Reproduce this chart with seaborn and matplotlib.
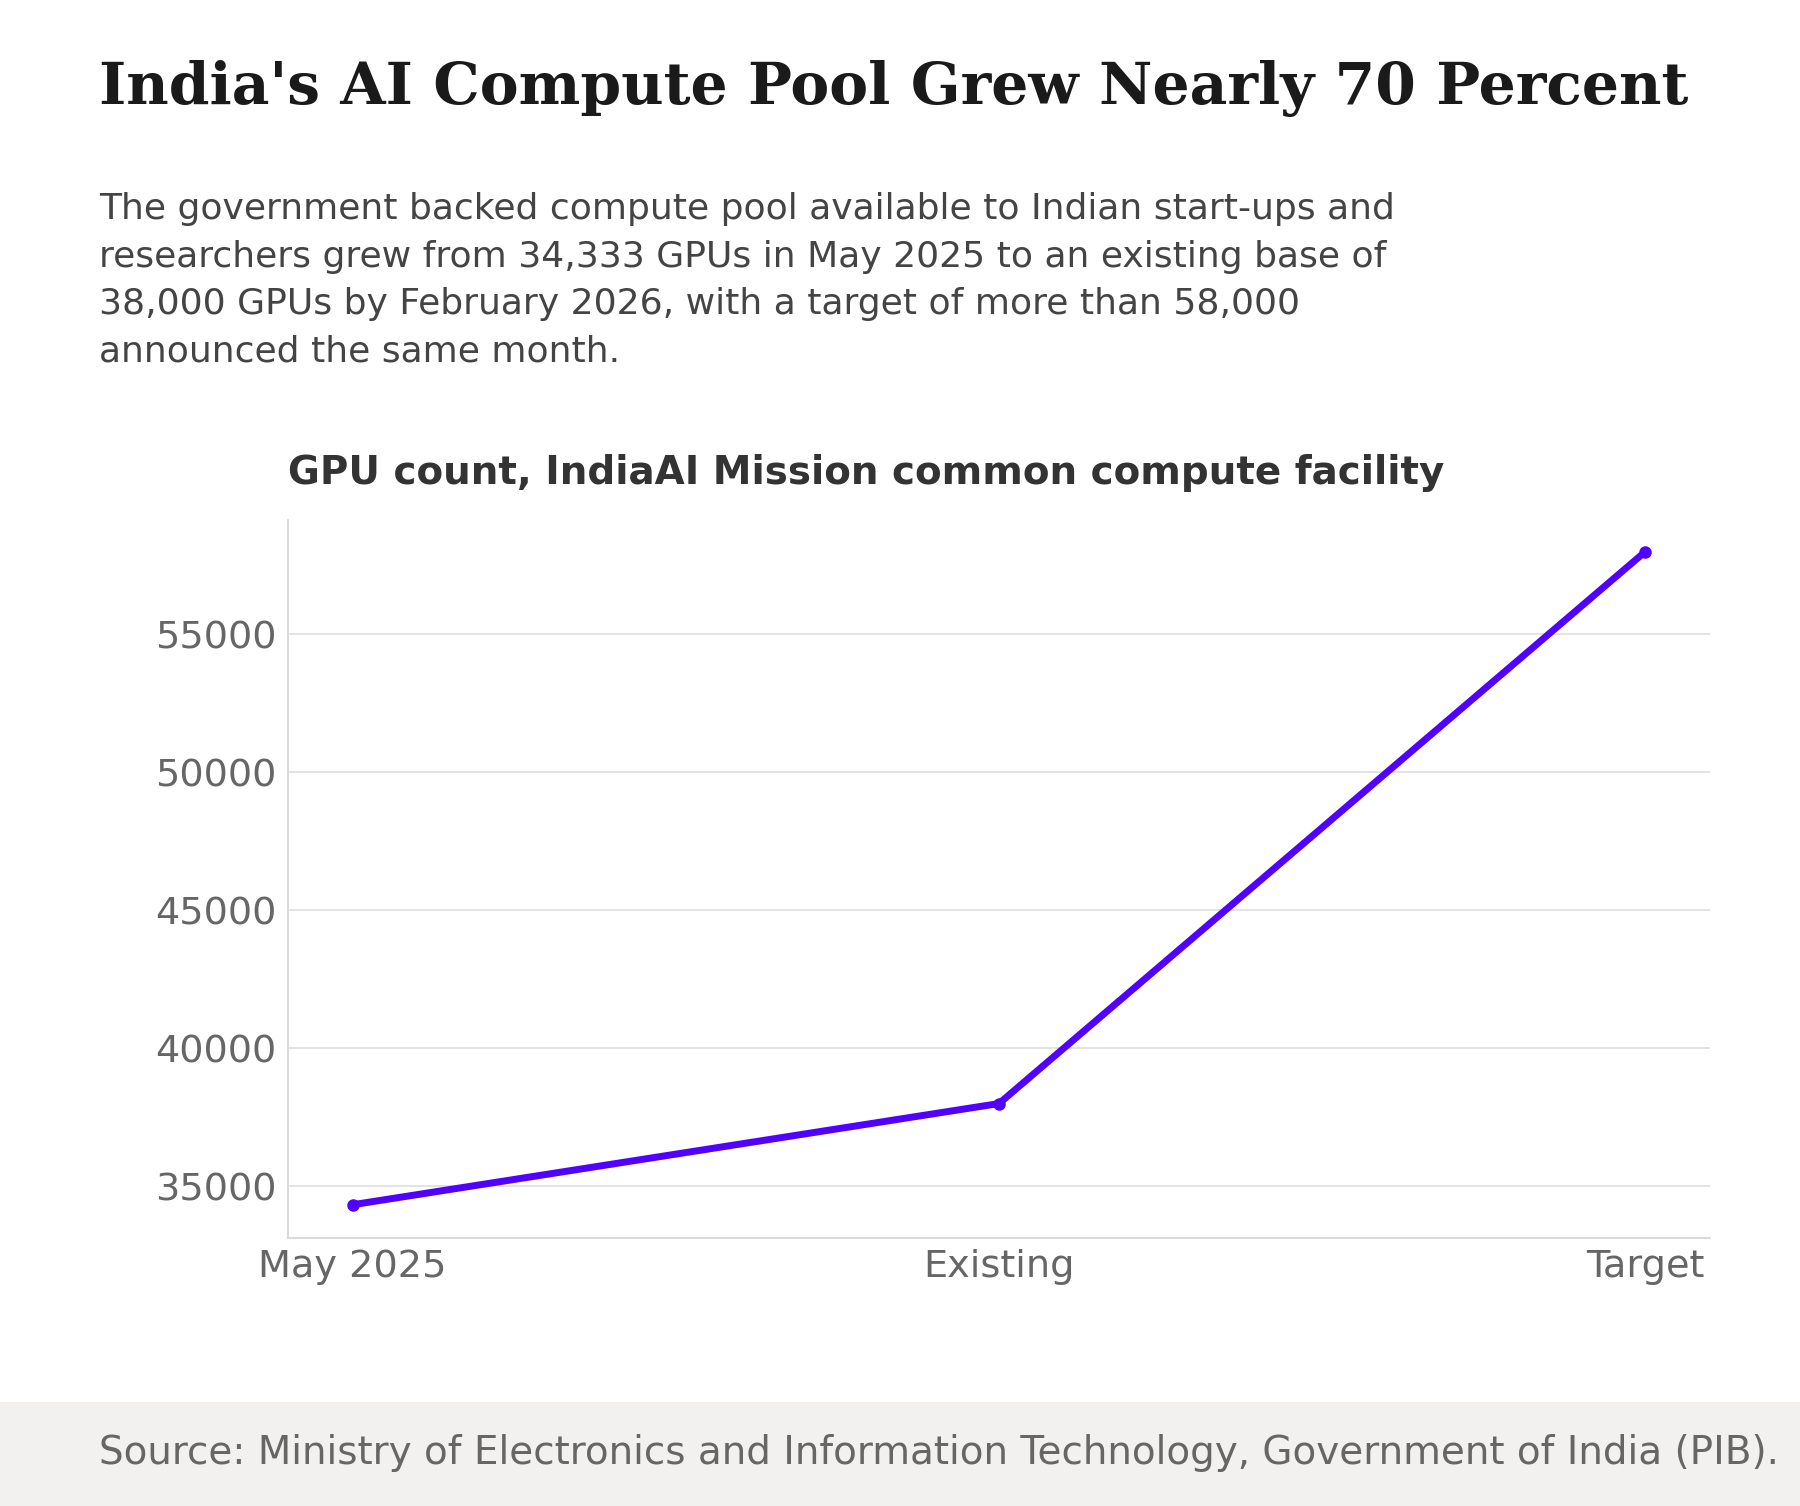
import matplotlib
matplotlib.use("Agg")
import matplotlib.pyplot as plt
import seaborn as sns
import pandas as pd
from matplotlib.patches import Rectangle

stages = ["May 2025", "Existing", "Target"]
gpus = [34333, 38000, 58000]

df = pd.DataFrame({"stage": range(len(stages)), "gpus": gpus})

sns.set_theme(style="white")
plt.rcParams["font.family"] = ["DejaVu Sans"]

fig = plt.figure(figsize=(18, 15.06), dpi=100)
ax = fig.add_axes([0.160, 0.178, 0.790, 0.477])

sns.lineplot(data=df, x="stage", y="gpus", ax=ax, color="#5200ff", linewidth=5,
             marker="o", markersize=9, markeredgewidth=0)

ax.set_xlim(-0.1, 2.1)
ax.set_ylim(33130, 59160)
ax.set_xticks(range(len(stages)))
ax.set_xticklabels(stages)
ax.set_yticks([35000, 40000, 45000, 50000, 55000])
ax.tick_params(axis="both", labelsize=27.5, colors="#666666", length=0, pad=8)
ax.grid(axis="y", color="#e0e0e0", linewidth=1.3)
ax.set_xlabel("")
ax.set_ylabel("")
for s in ["top", "right"]:
    ax.spines[s].set_visible(False)
for s in ["left", "bottom"]:
    ax.spines[s].set_color("#d8d8d8")
    ax.spines[s].set_linewidth(1.3)

fig.text(0.055, 0.941, "India's AI Compute Pool Grew Nearly 70 Percent",
         family="DejaVu Serif", weight="bold", fontsize=42, color="#1a1a1a", va="center")
fig.text(0.055, 0.755,
         "The government backed compute pool available to Indian start-ups and\n"
         "researchers grew from 34,333 GPUs in May 2025 to an existing base of\n"
         "38,000 GPUs by February 2026, with a target of more than 58,000\n"
         "announced the same month.",
         fontsize=26, color="#444444", linespacing=1.5, va="bottom")
fig.text(0.160, 0.686, "GPU count, IndiaAI Mission common compute facility",
         fontsize=28, weight="bold", color="#333333", va="center")

fig.patches.append(Rectangle((0, 0), 1, 0.069, transform=fig.transFigure,
                             facecolor="#f2f1ef", edgecolor="none", zorder=0))
fig.text(0.055, 0.0355,
         "Source: Ministry of Electronics and Information Technology, Government of India (PIB).",
         fontsize=28, color="#666666", va="center")

fig.savefig("out.png", dpi=100, facecolor="white")
